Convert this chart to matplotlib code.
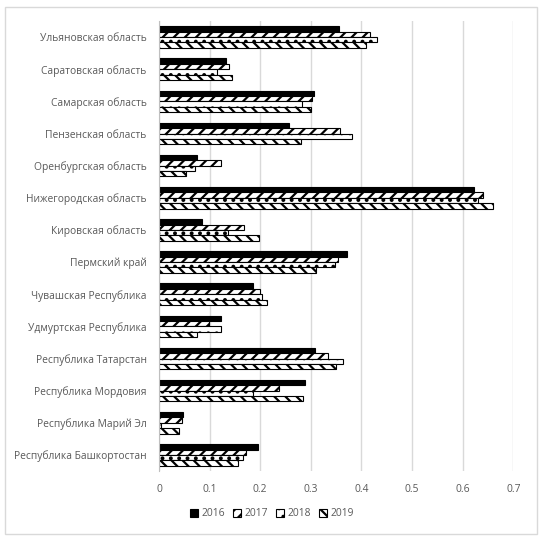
import numpy as np
import matplotlib
matplotlib.use("Agg")
import matplotlib.pyplot as plt
from matplotlib.patches import Rectangle

# регионы сверху вниз
regions = ["Ульяновская область", "Саратовская область", "Самарская область",
           "Пензенская область", "Оренбургская область", "Нижегородская область",
           "Кировская область", "Пермский край", "Чувашская Республика",
           "Удмуртская Республика", "Республика Татарстан", "Республика Мордовия",
           "Республика Марий Эл", "Республика Башкортостан"]
years = ["2016", "2017", "2018", "2019"]

v2016 = [0.356, 0.132, 0.306, 0.256, 0.075, 0.623, 0.085, 0.372, 0.186, 0.123, 0.308, 0.289, 0.047, 0.196]
v2017 = [0.417, 0.139, 0.302, 0.357, 0.122, 0.640, 0.167, 0.354, 0.199, 0.099, 0.333, 0.237, 0.045, 0.171]
v2018 = [0.430, 0.114, 0.282, 0.381, 0.072, 0.631, 0.137, 0.347, 0.203, 0.122, 0.363, 0.186, 0.003, 0.165]
v2019 = [0.408, 0.144, 0.300, 0.280, 0.054, 0.659, 0.197, 0.310, 0.213, 0.076, 0.349, 0.284, 0.039, 0.157]

xticks = [0, 0.1, 0.2, 0.3, 0.4, 0.5, 0.6, 0.7]
xticklabels = ["0", "0.1", "0.2", "0.3", "0.4", "0.5", "0.6", "0.7"]

plt.rcParams['font.family'] = ['Open Sans', 'DejaVu Sans']
plt.rcParams['hatch.linewidth'] = 1.6

fig = plt.figure(figsize=(5.47, 5.46), dpi=100)
ax = fig.add_axes([159/547, 1-471/546, (513.3-159)/547, 450/546])

# рамка вокруг диаграммы
fig.patches.append(Rectangle((5/547, 1-534/546), 532/547, 527/546, transform=fig.transFigure,
                             fill=False, edgecolor="#d9d9d9", linewidth=1))

y = np.arange(len(regions))
h = 0.167
series = [v2016, v2017, v2018, v2019]
hatches = [None, "///", "..", "\\\\\\"]
for i, (vals, hatch) in enumerate(zip(series, hatches)):
    off = (i - 1.5) * h
    if hatch is None:
        ax.barh(y + off, vals, height=h, color="black", edgecolor="black",
                linewidth=0.8, label=years[i])
    else:
        ax.barh(y + off, vals, height=h, color="white", edgecolor="black",
                hatch=hatch, linewidth=0.8, label=years[i])

ax.set_ylim(len(regions) - 0.5, -0.5)
ax.set_xlim(0, 0.7)
ax.set_yticks(y)
ax.set_yticklabels(regions)
ax.set_xticks(xticks)
ax.set_xticklabels(xticklabels)
ax.tick_params(axis="both", length=0, labelsize=7.4, colors="#595959")
ax.tick_params(axis="y", pad=9)
ax.tick_params(axis="x", pad=9)
ax.grid(axis="x", color="#d9d9d9", linewidth=1)
ax.set_axisbelow(True)
for s in ["top", "right", "bottom"]:
    ax.spines[s].set_visible(False)
ax.spines["left"].set_color("#bfbfbf")

leg = fig.legend(loc="center", bbox_to_anchor=(272/547, 1-514/546), ncol=4, frameon=False,
                 fontsize=7.4, handlelength=0.8, handleheight=0.8, handletextpad=0.3,
                 columnspacing=0.8)
for t in leg.get_texts():
    t.set_color("#595959")

plt.savefig("out.png", dpi=100)
